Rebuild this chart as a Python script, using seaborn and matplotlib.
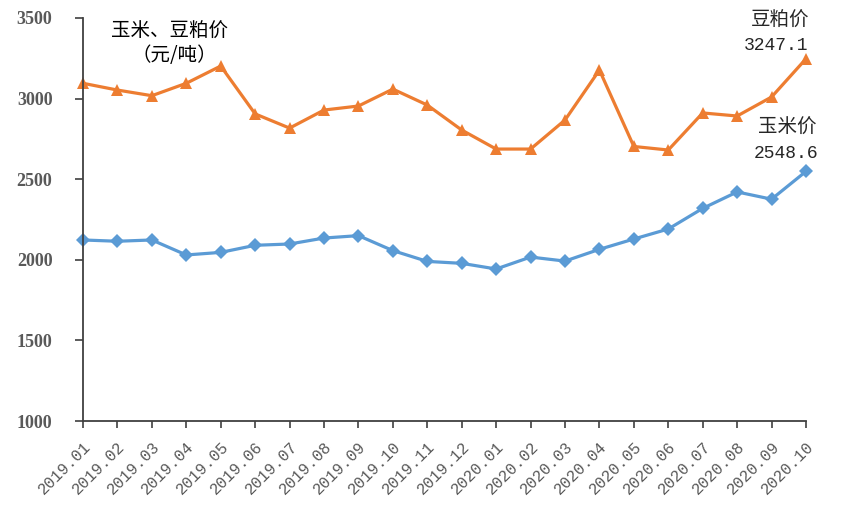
import matplotlib
matplotlib.use("Agg")
import matplotlib.pyplot as plt
import seaborn as sns
import pandas as pd

months = ["2019.01", "2019.02", "2019.03", "2019.04", "2019.05", "2019.06",
          "2019.07", "2019.08", "2019.09", "2019.10", "2019.11", "2019.12",
          "2020.01", "2020.02", "2020.03", "2020.04", "2020.05", "2020.06",
          "2020.07", "2020.08", "2020.09", "2020.10"]
soymeal = [3095, 3053, 3018, 3095, 3202, 2905, 2817, 2929, 2954, 3059, 2960, 2805,
           2687, 2687, 2867, 3177, 2703, 2681, 2911, 2892, 3010, 3247.1]
corn = [2123, 2115, 2123, 2030, 2046, 2090, 2098, 2135, 2150, 2057, 1990, 1978,
        1943, 2017, 1992, 2065, 2129, 2191, 2319, 2421, 2376, 2548.6]

sns.set_theme(style="white")
plt.rcParams['font.family'] = ['Noto Sans CJK SC', 'DejaVu Sans']

df = pd.DataFrame({
    "month": months * 2,
    "price": soymeal + corn,
    "series": ["豆粕价"] * len(months) + ["玉米价"] * len(months),
})
df["idx"] = list(range(len(months))) * 2

fig = plt.figure(figsize=(8.64, 5.17), dpi=100)
ax = fig.add_axes([83 / 864, 1 - 421 / 517, (806 - 83) / 864, (421 - 18) / 517])

sns.lineplot(data=df, x="idx", y="price", hue="series", style="series",
             palette={"豆粕价": "#ED7D31", "玉米价": "#5B9BD5"},
             markers={"豆粕价": "^", "玉米价": "D"}, dashes=False,
             linewidth=2.3, markersize=8.5, markeredgewidth=0,
             legend=False, ax=ax)
for ln in ax.lines:
    if ln.get_marker() == "D":
        ln.set_markersize(7)
    ln.set_clip_on(False)

ax.set_xlim(0, len(months) - 1)
ax.set_ylim(1000, 3500)
ax.set_yticks([1000, 1500, 2000, 2500, 3000, 3500])
ax.set_xticks(range(len(months)))
ax.set_xticklabels(months, rotation=45, ha="right", rotation_mode="anchor",
                   fontsize=11.5, color="#595959", family="Liberation Mono")
for lab in ax.get_yticklabels():
    lab.set_family("Liberation Serif")
    lab.set_fontsize(13)
    lab.set_fontweight("bold")
    lab.set_color("#595959")
ax.set_xlabel("")
ax.set_ylabel("")

for s in ["top", "right"]:
    ax.spines[s].set_visible(False)
for s in ["left", "bottom"]:
    ax.spines[s].set_color("#404040")
    ax.spines[s].set_linewidth(1.3)
ax.tick_params(axis="both", which="major", direction="out", width=1.2,
               color="#404040", bottom=True, left=True)
ax.tick_params(axis="x", length=5, pad=8)
ax.tick_params(axis="y", length=6, pad=16)

txt = dict(fontsize=14, color="#000000", ha="center", va="center",
           transform=fig.transFigure)
fig.text(169 / 864, 1 - 31 / 517, "玉米、豆粕价", **txt)
fig.text(174 / 864, 1 - 56 / 517, "（元/吨）", **txt)
txt2 = dict(color="#262626", ha="center", va="center",
            transform=fig.transFigure)
fig.text(780 / 864, 1 - 20 / 517, "豆粕价", fontsize=14, **txt2)
fig.text(776 / 864, 1 - 46 / 517, "3247.1", family="Liberation Mono",
         fontsize=13, **txt2)
fig.text(787 / 864, 1 - 127 / 517, "玉米价", fontsize=14, **txt2)
fig.text(786 / 864, 1 - 153 / 517, "2548.6", family="Liberation Mono",
         fontsize=13, **txt2)

fig.savefig("out.png", dpi=100)
